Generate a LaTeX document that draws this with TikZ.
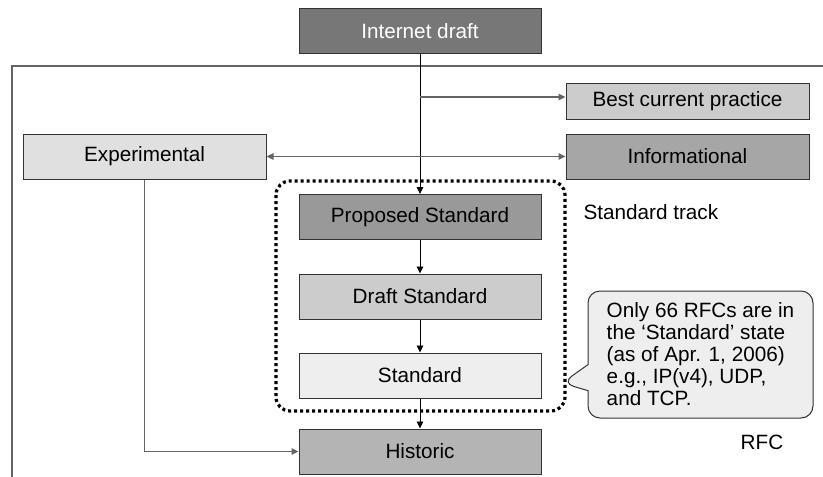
\documentclass[tikz,border=0pt]{standalone}
\usepackage{fontspec}
\setmainfont{Liberation Sans}
\usetikzlibrary{arrows.meta,shapes.callouts}
\definecolor{draftGray}{RGB}{119,119,119}
\definecolor{propGray}{RGB}{153,153,153}
\definecolor{infoGray}{RGB}{166,166,166}
\definecolor{histGray}{RGB}{180,180,180}
\definecolor{bcpGray}{RGB}{204,204,204}
\definecolor{expGray}{RGB}{224,224,224}
\definecolor{stdGray}{RGB}{238,238,238}
\definecolor{lineGray}{RGB}{100,100,100}

\begin{document}
\begin{tikzpicture}[x=1pt,y=-1pt,
    box/.style={draw=black!80, line width=1pt, minimum width=242pt,
      minimum height=45pt, inner sep=0pt, font=\fontsize{20.7}{22}\selectfont},
    arr/.style={-{Triangle[length=7pt,width=6.5pt]}, line width=1.6pt, lineGray},
    darr/.style={arr, black, line width=0.9pt}]
  \useasboundingbox (0,0) rectangle (823,477);
  % frame of the RFC area
  \draw[lineGray, line width=1.6pt] (823,66) -- (12,66) -- (12,477);

  \node[box, fill=draftGray, text=white] (draft) at (420,31) {Internet draft};
  \node[box, fill=bcpGray, minimum width=243pt, minimum height=36pt] (bcp) at (687.5,101) {Best current practice};
  \node[box, fill=infoGray, minimum width=243pt] (info) at (687.5,156.5) {Informational};
  \node[box, fill=expGray, minimum width=243pt] (exper) at (144.5,156.5) {Experimental};
  \node[box, fill=propGray] (proposed) at (420,217) {Proposed Standard};
  \node[box, fill=bcpGray] (draftstd) at (420,296.5) {Draft Standard};
  \node[box, fill=stdGray] (standard) at (420,375.5) {Standard};
  \node[box, fill=histGray] (historic) at (420,451.5) {Historic};

  \coordinate (split) at (420,97);
  \draw[darr] (draft) -- (proposed);
  \draw[arr] (split) -- (split -| bcp.west);
  \draw[arr, {Triangle[length=7pt,width=6.5pt]}-{Triangle[length=7pt,width=6.5pt]}] (exper) -- (info);
  \draw[darr] (proposed) -- (draftstd);
  \draw[darr] (draftstd) -- (standard);
  \draw[darr] (standard) -- (historic);
  \draw[arr] (exper.south) |- (historic.west);

  % standard track
  \draw[line width=3.2pt, dash pattern=on 3pt off 3pt, rounded corners=14pt]
    (276,181) rectangle (565,411);
  \node[anchor=west, font=\fontsize{20.7}{22}\selectfont] (track) at (580,212) {Standard track};

  \node[rectangle callout, draw=black!80, line width=1pt, fill=stdGray, rounded corners=12pt,
    minimum width=225pt, minimum height=127pt, align=left, inner sep=0pt,
    callout pointer width=26pt,
    font=\fontsize{20.7}{22}\selectfont, callout absolute pointer={(562,383)}] (note) at (700.5,354.5)
    {Only 66 RFCs are in\\the ‘Standard’ state\\(as of Apr. 1, 2006)\\e.g., IP(v4), UDP,\\and TCP.};
  \node[font=\fontsize{20.7}{22}\selectfont] (rfc) at (762,442) {RFC};
\end{tikzpicture}
\end{document}
